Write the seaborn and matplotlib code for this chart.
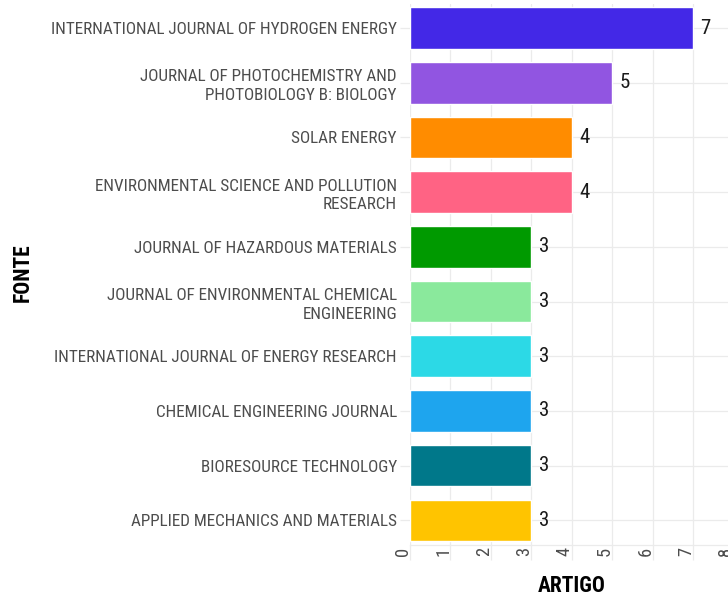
import matplotlib
matplotlib.use("Agg")
import matplotlib.pyplot as plt
import matplotlib.transforms as mtrans
from matplotlib import font_manager as fm
import numpy as np
import pandas as pd
import seaborn as sns

# ---------------- data ----------------
sources = [
    "INTERNATIONAL JOURNAL OF HYDROGEN ENERGY",
    "JOURNAL OF PHOTOCHEMISTRY AND\nPHOTOBIOLOGY B: BIOLOGY",
    "SOLAR ENERGY",
    "ENVIRONMENTAL SCIENCE AND POLLUTION\nRESEARCH",
    "JOURNAL OF HAZARDOUS MATERIALS",
    "JOURNAL OF ENVIRONMENTAL CHEMICAL\nENGINEERING",
    "INTERNATIONAL JOURNAL OF ENERGY RESEARCH",
    "CHEMICAL ENGINEERING JOURNAL",
    "BIORESOURCE TECHNOLOGY",
    "APPLIED MECHANICS AND MATERIALS",
]
articles = [7, 5, 4, 4, 3, 3, 3, 3, 3, 3]
bar_colors = [
    "#4328E7", "#9155E1", "#FF8C00", "#FF6384", "#009A00",
    "#8AE99C", "#2CD9E6", "#1EA5EE", "#00788A", "#FFC400",
]
x_ticks = [0, 1, 2, 3, 4, 5, 6, 7, 8]
x_title = "ARTIGO"
y_title = "FONTE"

# ---------------- style ----------------
sns.set_theme(style="white")
names = {f.name for f in fm.fontManager.ttflist}
font = next((n for n in ["Roboto Condensed", "Liberation Sans Narrow", "Roboto"] if n in names),
            "DejaVu Sans")
plt.rcParams["font.family"] = [font, "DejaVu Sans"]

W, H = 728, 597
fig = plt.figure(figsize=(W / 100, H / 100), dpi=100)
ax_left, ax_right, ax_top, ax_bottom = 410, 733.4, 4, 545
ax = fig.add_axes([ax_left / W, 1 - ax_bottom / H, (ax_right - ax_left) / W, (ax_bottom - ax_top) / H])

df = pd.DataFrame({"FONTE": sources, "ARTIGO": articles})
sns.barplot(data=df, x="ARTIGO", y="FONTE", hue="FONTE", palette=bar_colors,
            legend=False, width=0.76, saturation=1, orient="h", ax=ax)

# font size fitting
fig.canvas.draw()
renderer = fig.canvas.get_renderer()
longest = max((line for s in sources for line in s.split("\n")), key=len)
t = fig.text(0, 0, longest, fontsize=11.5)
w = t.get_window_extent(renderer).width
t.remove()
scale = 349.0 / w
fs_tick = 11.5 * scale
t = fig.text(0, 0, x_title, fontsize=16, fontweight="bold")
w2 = t.get_window_extent(renderer).width
t.remove()
fs_title = 16 * 68.0 / w2

ax.set_xlim(0, 8)
ax.set_ylim(len(sources) - 1 + 0.45, -0.44)
ax.set_xticks(x_ticks)
ax.set_xticklabels([str(v) for v in x_ticks])
ax.set_yticks(range(len(sources)))
ax.set_yticklabels(sources, linespacing=1.3)

grid_c = "#EBEBEB"
ax.grid(True, color=grid_c, linewidth=0.9)
ax.set_axisbelow(True)
for side in ["top", "right", "left"]:
    ax.spines[side].set_visible(False)
ax.spines["bottom"].set_color(grid_c)
ax.spines["bottom"].set_linewidth(0.9)

ax.tick_params(axis="y", length=7.2, width=0.9, color=grid_c, pad=2.2,
               labelsize=fs_tick, labelcolor="#4D4D4D", left=True)
ax.tick_params(axis="x", length=11, width=0.9, color=grid_c, pad=-9.5,
               labelsize=fs_tick * 1.08, labelcolor="#4D4D4D", labelrotation=90, bottom=True)
offset = mtrans.ScaledTranslation(-5.0 / 72, 0, fig.dpi_scale_trans)
for lab in ax.get_xticklabels():
    lab.set_transform(lab.get_transform() + offset)

for cont in ax.containers:
    ax.bar_label(cont, padding=5.5, fontsize=15, color="#1A1A1A")

ax.set_xlabel(x_title, fontsize=fs_title, fontweight="bold", color="black")
ax.set_ylabel(y_title, fontsize=fs_title, fontweight="bold", color="black")
axh = ax_bottom - ax_top
axw = ax_right - ax_left
ax.xaxis.set_label_coords(0.5, (ax_bottom - 586) / axh)
ax.xaxis.label.set_verticalalignment("center")
ax.yaxis.set_label_coords((23 - ax_left) / axw, (ax_bottom - 273) / axh)
ax.yaxis.label.set_verticalalignment("center")

fig.savefig("out.png", dpi=100)
